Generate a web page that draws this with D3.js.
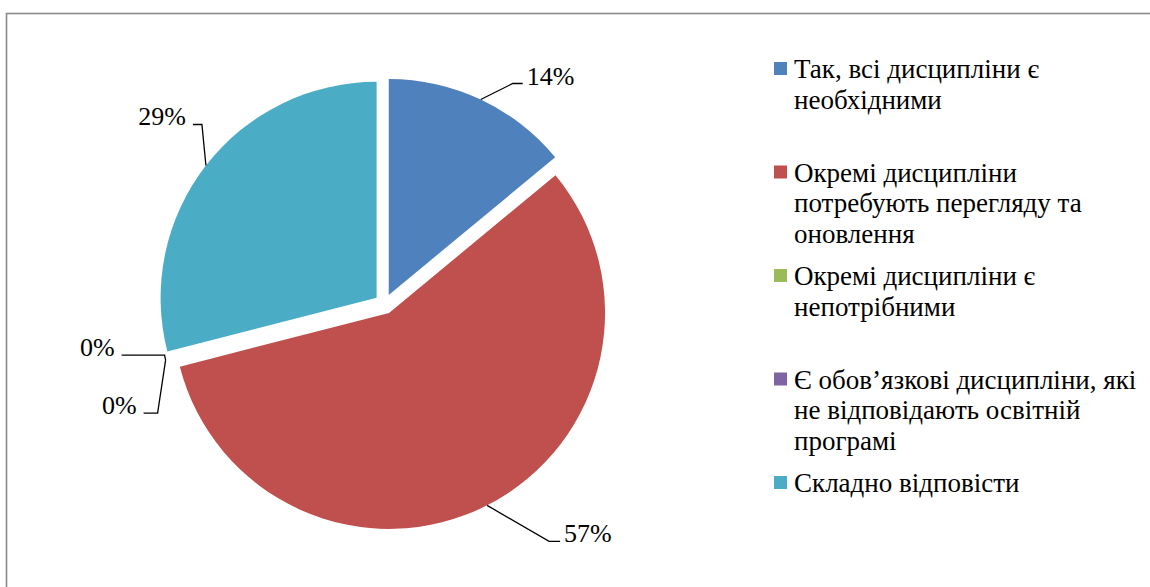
<!DOCTYPE html>
<html>
<head>
<meta charset="utf-8">
<script src="https://cdn.jsdelivr.net/npm/d3@7"></script>
<style>
  svg text { font-family: "Times New Roman", "Liberation Serif", Tinos, "Nimbus Roman", serif !important; }
</style>
</head>
<body style="margin:0">
<div id="plot"></div>
<script>
const width = 1150
const height = 587

// data
const categories = [
    "Так, всі дисципліни є\nнеобхідними",
    "Окремі дисципліни\nпотребують перегляду та\nоновлення",
    "Окремі дисципліни є\nнепотрібними",
    "Є обов’язкові дисципліни, які\nне відповідають освітній\nпрограмі",
    "Складно відповісти"
]
const values = [14, 57, 0, 0, 29]
const colors = ['#4F81BD', '#C0504D', '#9BBB59', '#8064A2', '#4BACC6']

// label leader layout: elbow offset from slice edge, then horizontal run
const labelLayout = [
    {elbow: [32, -16], run: 10},
    {elbow: [62, 36], run: 11},
    {elbow: [-1, -5], run: -43},
    {elbow: [-8, 53], run: -14},
    {elbow: [-4, -41], run: -9}
]

const center = {x: 384.5, y: 304}
const radius = 216
const explode = 10
const labelSize = 26
const legendSize = 27

const svg = d3.select('#plot').append('svg')
    .attr('width', width)
    .attr('height', height)

// chart frame (runs off the right and bottom edge)
svg.append('rect')
    .attr('x', 6.5)
    .attr('y', 13.5)
    .attr('width', width + 20)
    .attr('height', height + 20)
    .attr('fill', 'none')
    .attr('stroke', '#8a8a8a')
    .attr('stroke-width', 1.6)

const pie = d3.pie().sort(null).value(d => d)
const arcs = pie(values)
const arc = d3.arc().innerRadius(0).outerRadius(radius)

const pieG = svg.append('g')
    .attr('transform', 'translate(' + center.x + ',' + center.y + ')')

const mid = d => (d.startAngle + d.endAngle) / 2

pieG.selectAll('path')
    .data(arcs.filter(d => d.value > 0))
    .enter()
    .append('path')
    .attr('d', arc)
    .attr('fill', d => colors[d.index])
    .attr('transform', d => {
        const a = mid(d)
        return 'translate(' + (explode * Math.sin(a)) + ',' + (-explode * Math.cos(a)) + ')'
    })

// data labels with leader lines
arcs.forEach((d, i) => {
    const a = mid(d)
    const r = radius + explode
    const p0 = [center.x + r * Math.sin(a), center.y - r * Math.cos(a)]
    const lay = labelLayout[i]
    const p1 = [p0[0] + lay.elbow[0], p0[1] + lay.elbow[1]]
    const p2 = [p1[0] + lay.run, p1[1]]

    svg.append('path')
        .attr('d', d3.line()([p0, p1, p2]))
        .attr('fill', 'none')
        .attr('stroke', '#000')
        .attr('stroke-width', 1.3)

    const right = lay.run > 0
    svg.append('text')
        .attr('x', p2[0] + (right ? 4 : -7))
        .attr('y', p2[1] + 1)
        .attr('text-anchor', right ? 'start' : 'end')
        .attr('font-family', 'Times New Roman')
        .style('font-family', '"Times New Roman", "Liberation Serif", serif')
        .attr('font-size', labelSize)
        .text(Math.round(d.value / d3.sum(values) * 100) + '%')
})

// legend
const legendX = 774
const legendY0 = 78
const legendStep = 103.5
const lineStep = 30.5

categories.forEach((c, i) => {
    const y = legendY0 + i * legendStep
    svg.append('rect')
        .attr('x', legendX)
        .attr('y', y - 16)
        .attr('width', 13)
        .attr('height', 13)
        .attr('fill', colors[i])
    c.split('\n').forEach((line, j) => {
        svg.append('text')
            .attr('x', legendX + 20)
            .attr('y', y + j * lineStep)
            .attr('font-family', 'Times New Roman')
            .style('font-family', '"Times New Roman", "Liberation Serif", serif')
            .attr('font-size', legendSize)
            .text(line)
    })
})
</script>
</body>
</html>
